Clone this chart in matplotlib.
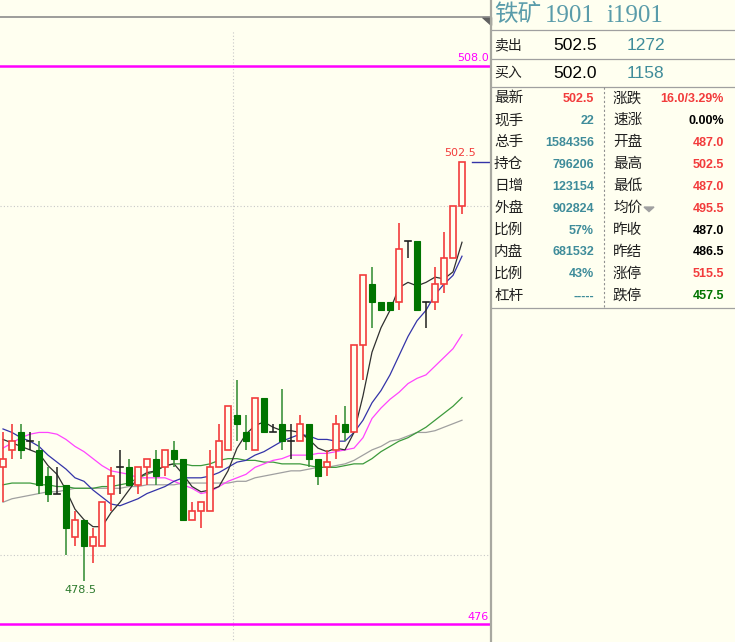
import matplotlib
matplotlib.use('Agg')
import matplotlib.pyplot as plt
from matplotlib.patches import Rectangle, Polygon

plt.rcParams['font.family'] = ['Noto Sans CJK SC', 'DejaVu Sans']

# ---------------- data ----------------
opens  = [485, 486, 487, 486.5, 486, 484.5, 483.5, 484, 481, 482, 480.5, 480.5, 483.5, 485,
          485, 484, 485, 485.5, 485, 486, 485.5, 482, 482.5, 482.5, 485, 486, 488, 487,
          486, 489, 487, 487.5, 486.5, 486.5, 487.5, 485.5, 485, 486, 487.5, 487, 492, 495.5,
          494.5, 494.5, 494.5, 498, 498, 494.5, 494.5, 495.5, 497, 500]
highs  = [487, 487.5, 487.5, 487, 486.5, 485, 485, 484, 482.5, 482, 481.5, 483, 485, 486,
          485.5, 485, 485.5, 486, 486, 486.5, 485.5, 483, 483, 486, 487.5, 488.5, 490, 488,
          489, 489, 487.5, 489.5, 487.5, 488, 487.5, 485.5, 486, 488, 488.5, 492, 496, 496.5,
          494.5, 494.5, 499, 498, 498, 494.5, 496.5, 498.5, 500, 502.5]
lows   = [483, 485.5, 485.5, 486, 483.5, 483, 483.5, 480, 480.5, 478.5, 479.5, 480.5, 482.5, 483.5,
          484, 483.5, 484, 484, 484.5, 485, 482, 482, 481.5, 482.5, 485, 486, 486.5, 486,
          486, 487, 487, 486, 485.5, 486.5, 485, 484, 484.5, 485.5, 486.5, 487, 490, 493,
          494, 494, 494, 497, 494, 493, 494, 495, 497, 499.5]
closes = [485.5, 486.5, 486, 486.5, 484, 483.5, 483.5, 481.5, 482, 480.5, 481, 483, 484.5, 485,
          484, 485, 485.5, 484.5, 486, 485.5, 482, 482.5, 483, 485, 486.5, 488.5, 487.5, 486.5,
          489, 487, 487, 486.5, 486.5, 487.5, 485.5, 484.5, 485.3, 487.5, 487, 492, 496, 494.5,
          494, 494, 497.5, 498, 494, 494.5, 495.5, 497, 500, 502.5]

ma5  = [486.6, 486.4, 486.2, 486.0, 485.8, 485.1, 484.6, 483.7, 482.6, 482.0, 481.6, 481.6, 482.4, 483.0,
        483.7, 484.4, 484.7, 484.8, 485.1, 485.2, 484.6, 483.9, 483.6, 483.7, 483.9, 484.8, 486.1, 486.9,
        487.4, 487.6, 487.3, 487.1, 487.1, 487.0, 486.6, 486.1, 485.9, 486.1, 486.0, 487.0, 489.1, 491.6,
        493.0, 494.0, 495.3, 495.6, 495.4, 495.6, 495.9, 495.8, 496.2, 497.9]
ma10 = [487.2, 487.0, 486.7, 486.5, 486.2, 485.7, 485.3, 484.9, 484.4, 484.2, 483.7, 483.3, 482.9, 482.8,
        483.0, 483.2, 483.5, 483.7, 483.9, 484.2, 484.4, 484.4, 484.4, 484.5, 484.7, 485.0, 485.3, 485.4,
        485.7, 485.9, 486.2, 486.5, 486.7, 486.9, 486.8, 486.6, 486.6, 486.5, 486.5, 487.0, 487.7, 488.7,
        489.4, 490.3, 491.4, 492.5, 493.4, 494.0, 494.9, 495.5, 496.0, 497.1]
ma20 = [486.1, 486.4, 486.7, 486.9, 487.0, 487.0, 486.9, 486.6, 486.2, 485.9, 485.5, 485.1, 484.8, 484.7,
        484.6, 484.4, 484.4, 484.4, 484.4, 484.2, 484.0, 483.8, 483.5, 483.6, 483.9, 484.2, 484.4, 484.6,
        485.0, 485.2, 485.4, 485.5, 485.7, 485.7, 485.7, 485.8, 485.8, 485.9, 486.0, 486.1, 486.7, 487.8,
        488.4, 488.9, 489.3, 489.8, 490.1, 490.3, 490.8, 491.3, 491.8, 492.6]
ma40 = [484.0, 484.1, 484.1, 484.1, 484.0, 484.0, 483.9, 483.9, 483.8, 483.8, 483.8, 483.9, 483.9, 484.0,
        484.1, 484.4, 484.6, 484.8, 485.1, 485.2, 485.2, 485.1, 485.1, 485.2, 485.4, 485.5, 485.5, 485.4,
        485.4, 485.3, 485.3, 485.2, 485.2, 485.2, 485.1, 485.0, 485.0, 485.0, 485.1, 485.2, 485.2, 485.5,
        485.9, 486.2, 486.5, 486.7, 487.0, 487.3, 487.7, 488.1, 488.5, 489.0]
ma60 = [483.0, 483.2, 483.3, 483.4, 483.5, 483.6, 483.6, 483.7, 483.8, 483.8, 483.8, 483.8, 483.8, 483.8,
        483.9, 483.9, 484.0, 484.0, 484.0, 484.0, 484.1, 484.1, 484.1, 484.1, 484.1, 484.1, 484.2, 484.2,
        484.4, 484.5, 484.6, 484.7, 484.8, 484.8, 484.9, 485.0, 485.0, 485.1, 485.2, 485.4, 485.7, 486.0,
        486.2, 486.5, 486.6, 486.8, 487.0, 487.0, 487.1, 487.3, 487.5, 487.7]

upper_limit_line = 508.0
lower_limit_line = 476
grid_prices = [500, 480]
session_break = 25.5
last_price = 502.5
low_price = 478.5
low_index = 9

title_cn = "铁矿"
title_code = "1901"
title_symbol = "i1901"
ask_row = ("卖出", "502.5", "1272")
bid_row = ("买入", "502.0", "1158")
left_labels = ["最新", "现手", "总手", "持仓", "日增", "外盘", "比例", "内盘", "比例", "杠杆"]
left_values = ["502.5", "22", "1584356", "796206", "123154", "902824", "57%", "681532", "43%", "-----"]
right_labels = ["涨跌", "速涨", "开盘", "最高", "最低", "均价", "昨收", "昨结", "涨停", "跌停"]
right_values = ["16.0/3.29%", "0.00%", "487.0", "502.5", "487.0", "495.5", "487.0", "486.5", "515.5", "457.5"]

# ---------------- style ----------------
BG = '#FFFFF0'
RED = '#F23C3C'
GREEN = '#007400'
TEAL = '#3F8C9A'
MAG = '#FF00FF'
W, H = 735, 642

fig = plt.figure(figsize=(W / 100, H / 100), dpi=100)
fig.patch.set_facecolor(BG)

# chart axes: pixel x 0..490, y 16..642
ax = fig.add_axes([0, 0, 490 / W, (H - 16) / H])
ax.set_facecolor(BG)
scale = 17.45  # px per price unit
ax.set_ylim(upper_limit_line - (642 - 66) / scale, upper_limit_line + (66 - 16) / scale)
ax.set_xlim(-3 / 9, (490 - 3) / 9)
for s in ax.spines.values():
    s.set_visible(False)
ax.set_xticks([])
ax.set_yticks([])

# grid
for gp in grid_prices:
    ax.axhline(gp, color='#C8C8C8', lw=0.8, ls=(0, (1, 2)), zorder=1)
ax.plot([session_break, session_break], [grid_prices[1] - 10, 510.0], color='#C8C8C8', lw=0.8,
        ls=(0, (1, 2)), zorder=1)

# limit lines
ax.axhline(upper_limit_line, color=MAG, lw=1.8, zorder=2)
ax.axhline(lower_limit_line, color=MAG, lw=1.8, zorder=2)

# moving averages
xs = list(range(len(opens)))
ax.plot(xs, ma60, color='#A0A0A0', lw=0.9, zorder=3)
ax.plot(xs, ma40, color='#3C9A3C', lw=0.9, zorder=3)
ax.plot(xs, ma20, color='#FF44FF', lw=0.9, zorder=3)
ax.plot(xs, ma10, color='#3434A8', lw=0.9, zorder=3)
ax.plot(xs, ma5, color='#303030', lw=0.9, zorder=3)

# candles
bw = 0.72
for i, (o, h, l, c) in enumerate(zip(opens, highs, lows, closes)):
    if c > o:
        col = RED
        ax.plot([i, i], [l, h], color=col, lw=1.2, zorder=4, solid_capstyle='butt')
        ax.add_patch(Rectangle((i - bw / 2, o), bw, c - o, facecolor=BG, edgecolor=col, lw=1.2, zorder=5))
    elif c < o:
        col = GREEN
        ax.plot([i, i], [l, h], color='#3E933E', lw=1.2, zorder=4, solid_capstyle='butt')
        ax.add_patch(Rectangle((i - bw / 2, c), bw, o - c, facecolor=col, edgecolor=col, lw=0.8, zorder=5))
    else:
        col = '#202020'
        ax.plot([i, i], [l, h], color=col, lw=1.1, zorder=4, solid_capstyle='butt')
        ax.plot([i - bw / 2, i + bw / 2], [o, o], color=col, lw=1.2, zorder=5)

# labels on chart
ax.text(54.0, upper_limit_line + 0.15, f"{upper_limit_line:.1f}", color=MAG, fontsize=8,
        ha='right', va='bottom', family=['DejaVu Sans'], zorder=6)
ax.text(54.0, lower_limit_line + 0.15, f"{lower_limit_line}", color=MAG, fontsize=8,
        ha='right', va='bottom', family=['DejaVu Sans'], zorder=6)
last_i = len(opens) - 1
ax.text(last_i - 0.2, last_price + 0.2, f"{last_price:.1f}", color=RED, fontsize=8,
        ha='center', va='bottom', family=['DejaVu Sans'], zorder=6)
ax.text(low_index - 0.35, low_price - 0.25, f"{low_price:.1f}", color='#2C7A2C', fontsize=8,
        ha='center', va='top', family=['DejaVu Sans'], zorder=6)
ax.plot([last_i + 1.1, 55], [last_price, last_price], color='#3434A8', lw=1.0, zorder=6)

# ---------------- overlay (pixel coords) ----------------
ov = fig.add_axes([0, 0, 1, 1], zorder=10)
ov.set_xlim(0, W)
ov.set_ylim(H, 0)
ov.axis('off')
ov.patch.set_alpha(0)

# chart frame
ov.plot([0, 491], [16.5, 16.5], color='#8C8C8C', lw=1.2)
ov.add_patch(Polygon([[482, 16.5], [491, 16.5], [491, 25]], closed=True, color='#606060'))
ov.plot([491.5, 491.5], [0, H], color='#A8A8A0', lw=1.6)

# right panel
TITLE = '#5A9CAA'
ov.text(494, 14.5, title_cn, color=TITLE, fontsize=17, ha='left', va='center')
ov.text(545, 15.5, title_code, color=TITLE, fontsize=18, ha='left', va='center',
        family=['Liberation Serif'])
ov.text(606, 15.5, title_symbol, color=TITLE, fontsize=18, ha='left', va='center',
        family=['Liberation Serif'])
for yy in [29.5, 58.5, 86.5, 308]:
    ov.plot([492, 735], [yy, yy], color='#A0A0A0', lw=0.9)
ov.plot([604.5, 604.5], [87, 308], color='#909090', lw=0.8, ls=(0, (2, 2)))

for (lab, v1, v2), yy in zip([ask_row, bid_row], [45, 73]):
    ov.text(494, yy, lab, color='#202020', fontsize=10, ha='left', va='center')
    ov.text(553, yy, v1, color='#000000', fontsize=12.5, ha='left', va='center',
            family=['Liberation Sans'])
    ov.text(627, yy, v2, color=TEAL, fontsize=12.5, ha='left', va='center',
            family=['Liberation Sans'])

left_colors = [RED] + [TEAL] * 9
right_colors = [RED, '#000000', RED, RED, RED, RED, '#000000', '#000000', RED, GREEN]
row_y0, row_dy = 98.3, 21.95
for k in range(10):
    yy = row_y0 + k * row_dy
    ov.text(494, yy, left_labels[k], color='#202020', fontsize=10.5, ha='left', va='center')
    ov.text(594, yy + 0.5, left_values[k], color=left_colors[k], fontsize=9, ha='right', va='center',
            family=['Liberation Sans'], weight='bold')
    ov.text(613, yy, right_labels[k], color='#202020', fontsize=10.5, ha='left', va='center')
    ov.text(724, yy + 0.5, right_values[k], color=right_colors[k], fontsize=9, ha='right', va='center',
            family=['Liberation Sans'], weight='bold')
# small dropdown triangle after 均价
ty = row_y0 + 5 * row_dy + 1
ov.add_patch(Polygon([[644, ty - 2], [654, ty - 2], [649, ty + 2.5]], closed=True, color='#A0A0A0'))

fig.savefig('out.png', dpi=100, facecolor=BG)
